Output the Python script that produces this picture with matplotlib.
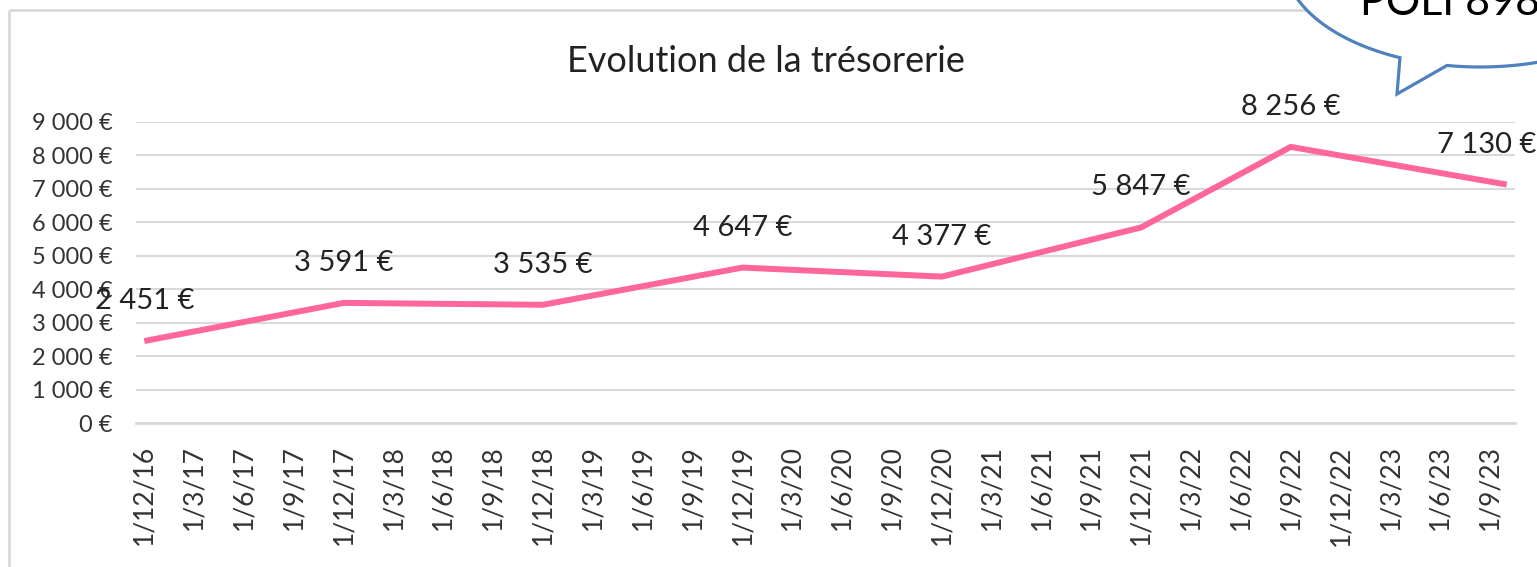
"""
Evolution de la trésorerie — line chart with euro data labels
and a speech-bubble callout in the top-right corner.
"""

import matplotlib.pyplot as plt
import numpy as np
import pandas as pd
from matplotlib.patches import Polygon, Rectangle

plt.rcParams["font.family"] = ["Lato", "DejaVu Sans"]

# ── data ────────────────────────────────────────────────────────────
dates = ["2016-12-01", "2017-12-01", "2018-12-01", "2019-12-01",
         "2020-12-01", "2021-12-01", "2022-09-01", "2023-10-01"]
values = [2451, 3591, 3535, 4647, 4377, 5847, 8256, 7130]

tick_labels = ["1/12/16", "1/3/17", "1/6/17", "1/9/17", "1/12/17", "1/3/18",
               "1/6/18", "1/9/18", "1/12/18", "1/3/19", "1/6/19", "1/9/19",
               "1/12/19", "1/3/20", "1/6/20", "1/9/20", "1/12/20", "1/3/21",
               "1/6/21", "1/9/21", "1/12/21", "1/3/22", "1/6/22", "1/9/22",
               "1/12/22", "1/3/23", "1/6/23", "1/9/23"]
y_ticks = [0, 1000, 2000, 3000, 4000, 5000, 6000, 7000, 8000, 9000]

title = "Evolution de la trésorerie"
bubble_text = "POLI 898€"

W, H = 1537, 567
LINE_COLOR = "#ff6699"
GRID_COLOR = "#d9d9d9"
BUBBLE_COLOR = "#4f81bd"


def euro(v):
    return f"{v:,}".replace(",", " ") + " €"


def month_index(d, start):
    # Excel date axis with a monthly base unit: one slot per month
    return (d.year - start.year) * 12 + (d.month - start.month)


start = pd.Timestamp(dates[0])
x = np.array([month_index(pd.Timestamp(d), start) for d in dates])
tick_pos = np.arange(len(tick_labels)) * 3

fig = plt.figure(figsize=(W / 100, H / 100), dpi=100)
ax = fig.add_axes([136 / W, 1 - 423 / H, 1379 / W, 301 / H])

ax.plot(x, values, color=LINE_COLOR, lw=4.3, solid_joinstyle="round",
        solid_capstyle="butt", zorder=3)

# data labels sit above each point; the last one is pulled inside the frame
nudge = {len(values) - 1: -20}
for i, (xi, v) in enumerate(zip(x, values)):
    ax.annotate(euro(v), (xi, v), xytext=(nudge.get(i, 0), 40),
                textcoords="offset pixels", ha="center", va="center",
                fontsize=21, color="#222222", zorder=4,
                annotation_clip=False)

ax.set_xlim(-0.5, month_index(pd.Timestamp(dates[-1]), start) + 0.5)
ax.set_ylim(0, 9000)
ax.set_yticks(y_ticks)
ax.set_yticklabels([euro(v) for v in y_ticks])
ax.set_xticks(tick_pos)
ax.set_xticklabels(tick_labels, rotation=90, va="top", ha="center")
ax.tick_params(axis="y", length=0, pad=17, labelsize=17, labelcolor="#333333")
ax.tick_params(axis="x", length=0, pad=16, labelsize=19, labelcolor="#333333")
ax.grid(axis="y", color=GRID_COLOR, lw=1.5)
ax.set_axisbelow(True)
for side in ("top", "right", "left"):
    ax.spines[side].set_visible(False)
ax.spines["bottom"].set_color(GRID_COLOR)
ax.spines["bottom"].set_linewidth(2)

# overlay in pixel coordinates for title, frame and callout
ov = fig.add_axes([0, 0, 1, 1], zorder=10)
ov.set_xlim(0, W)
ov.set_ylim(H, 0)
ov.axis("off")
ov.patch.set_alpha(0)

ov.text(766, 62, title, ha="center", va="center", fontsize=26, color="#222222")
ov.add_patch(Rectangle((9, 10), W + 20, H + 20, fill=False,
                       edgecolor=GRID_COLOR, lw=2))

# speech bubble: ellipse with a tail pointing down-left
cx, cy, a, b = 1480, -40, 196, 107
t1, t2 = np.deg2rad(99.7), np.deg2rad(114.1)
ang1 = np.linspace(0, t1, 60)
ang2 = np.linspace(t2, 2 * np.pi, 200)
pts = [(cx + a * np.cos(t), cy + b * np.sin(t)) for t in ang1]
pts.append((1397, 94))
pts += [(cx + a * np.cos(t), cy + b * np.sin(t)) for t in ang2]
ov.add_patch(Polygon(pts, closed=True, facecolor="white",
                     edgecolor=BUBBLE_COLOR, lw=2.3, joinstyle="miter"))
ov.text(1360, 15, bubble_text, ha="left", va="baseline", fontsize=31,
        color="black")

fig.savefig("out.png", dpi=100)
